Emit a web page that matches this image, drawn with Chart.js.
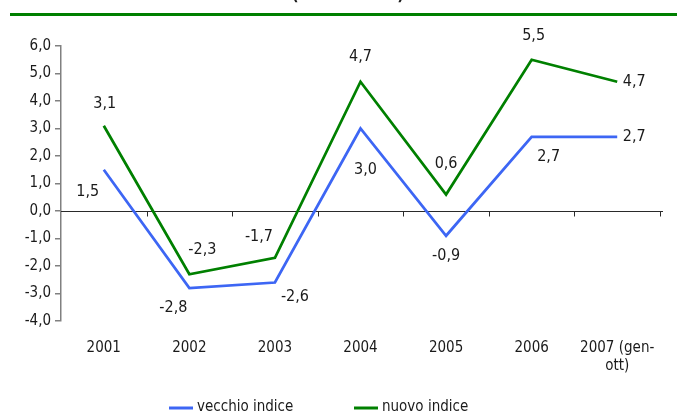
<!DOCTYPE html>
<html>
<head>
<meta charset="utf-8">
<script src="https://cdn.jsdelivr.net/npm/chart.js@4"></script>
<style>
html,body{margin:0;padding:0;background:#fff;}
canvas{display:block;}
</style>
</head>
<body>
<canvas id="c" width="677" height="416"></canvas>
<script>
const categories = ['2001','2002','2003','2004','2005','2006',['2007 (gen-','ott)']];
const vecchioIndice = [1.5,-2.8,-2.6,3.0,-0.9,2.7,2.7];
const nuovoIndice = [3.1,-2.3,-1.7,4.7,0.6,5.5,4.7];
const seriesNames = ['vecchio indice','nuovo indice'];
const titleText = '(variazioni %)';
const yMin = -4, yMax = 6, yStep = 1;

const FF = "'Liberation Sans Narrow','Arial Narrow','DejaVu Sans Condensed',sans-serif";
const BLUE = '#3D66F4';
const GREEN = '#008000';
const fmt = v => v.toFixed(1).replace('.', ',');

// label offsets (dx, dy) relative to each point, px
const labelOffsets = [
  [[-16,22],[-16,20],[20,14],[5,41],[0,20],[17,20],[17,0]],
  [[1,-22],[13,-24],[-16,-21],[0,-25],[0,-31],[2,-24],[17,0]]
];

const deco = {
  id: 'deco',
  beforeDatasetsDraw(chart) {
    const ctx = chart.ctx, ca = chart.chartArea;
    const ys = chart.scales.y, xs = chart.scales.x;
    const y0 = Math.round(ys.getPixelForValue(0)) + 0.5;
    ctx.save();
    ctx.strokeStyle = '#2a2a2a';
    ctx.lineWidth = 1;
    ctx.beginPath();
    ctx.moveTo(ca.left, y0);
    ctx.lineTo(ca.right + 3, y0);
    const n = xs.ticks.length;
    const w = (ca.right - ca.left) / n;
    for (let i = 1; i <= n; i++) {
      const x = Math.round(ca.left + i * w) + 0.5;
      ctx.moveTo(x, y0);
      ctx.lineTo(x, y0 + 5);
    }
    ctx.stroke();
    ctx.restore();
  },
  afterDatasetsDraw(chart) {
    const ctx = chart.ctx;
    ctx.save();
    ctx.font = '16px ' + FF;
    ctx.fillStyle = '#1a1a1a';
    ctx.textAlign = 'center';
    ctx.textBaseline = 'middle';
    chart.data.datasets.forEach((ds, di) => {
      const meta = chart.getDatasetMeta(di);
      meta.data.forEach((pt, i) => {
        const off = labelOffsets[di][i];
        ctx.fillText(fmt(ds.data[i]), pt.x + off[0], pt.y + off[1]);
      });
    });
    ctx.restore();
  },
  afterDraw(chart) {
    const ctx = chart.ctx;
    ctx.save();
    // top rule and clipped title
    ctx.fillStyle = GREEN;
    ctx.fillRect(10, 13, 667, 3);
    ctx.fillStyle = '#1a1a1a';
    ctx.font = 'bold 16px ' + FF;
    ctx.textAlign = 'center';
    ctx.textBaseline = 'alphabetic';
    ctx.fillText(titleText, 348, 0);
    // legend
    const items = [[169, BLUE, seriesNames[0]], [354, GREEN, seriesNames[1]]];
    ctx.font = '15px ' + FF;
    ctx.textAlign = 'left';
    ctx.textBaseline = 'middle';
    items.forEach(([x, col, txt]) => {
      ctx.strokeStyle = col;
      ctx.lineWidth = 3;
      ctx.beginPath();
      ctx.moveTo(x, 408);
      ctx.lineTo(x + 24, 408);
      ctx.stroke();
      ctx.fillStyle = '#1a1a1a';
      ctx.fillText(txt, x + 28, 407);
    });
    ctx.restore();
  }
};

new Chart(document.getElementById('c'), {
  type: 'line',
  data: {
    labels: categories,
    datasets: [
      { label: seriesNames[0], data: vecchioIndice, borderColor: BLUE, backgroundColor: BLUE, borderWidth: 2.75, pointRadius: 0, fill: false, tension: 0 },
      { label: seriesNames[1], data: nuovoIndice, borderColor: GREEN, backgroundColor: GREEN, borderWidth: 2.75, pointRadius: 0, fill: false, tension: 0 }
    ]
  },
  options: {
    responsive: false,
    devicePixelRatio: 1,
    animation: false,
    layout: { padding: { top: 46, right: 17, bottom: 0, left: 0 } },
    plugins: { legend: { display: false }, tooltip: { enabled: false } },
    scales: {
      x: {
        type: 'category',
        offset: true,
        grid: { display: false, drawTicks: false },
        border: { display: false },
        ticks: { color: '#1a1a1a', font: { family: FF, size: 15 }, padding: 18, maxRotation: 0, autoSkip: false },
        afterFit(s) { s.height = 95; }
      },
      y: {
        min: yMin, max: yMax,
        ticks: { stepSize: yStep, color: '#1a1a1a', font: { family: FF, size: 15 }, padding: 4, callback: v => fmt(v) },
        grid: { drawOnChartArea: false, drawTicks: true, tickLength: 6, color: '#808080', lineWidth: 1.5 },
        border: { color: '#808080', width: 1.5 },
        afterFit(s) { s.width = 61; }
      }
    }
  },
  plugins: [deco]
});
</script>
</body>
</html>
